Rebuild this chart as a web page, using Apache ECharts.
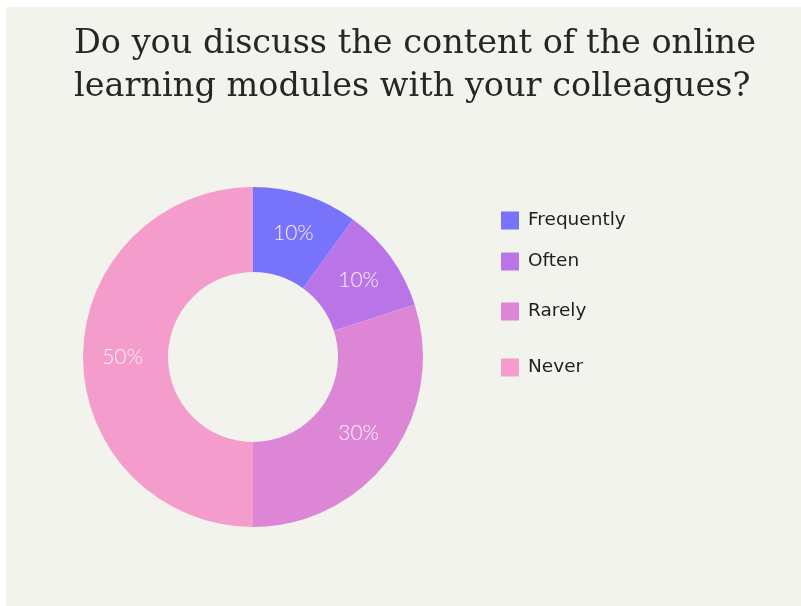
<!DOCTYPE html>
<html>
<head>
<meta charset="utf-8">
<script src="https://cdn.jsdelivr.net/npm/echarts@6/dist/echarts.min.js"></script>
<style>
html,body{margin:0;padding:0;background:#ffffff;}
#chart{width:801px;height:606px;}
</style>
</head>
<body>
<div id="chart"></div>
<script>
const titleLines = ['Do you discuss the content of the online', 'learning modules with your colleagues?'];
const categories = ['Frequently', 'Often', 'Rarely', 'Never'];
const values = [10, 10, 30, 50];
const colors = ['#7773fb', '#b974e7', '#de86d6', '#f49ccb'];
const legendTops = [211, 252, 302, 358];

const chart = echarts.init(document.getElementById('chart'));

const legends = categories.map((c, i) => ({
  data: [c],
  orient: 'vertical',
  left: 501,
  top: legendTops[i],
  padding: 0,
  itemWidth: 18,
  itemHeight: 18,
  itemGap: 0,
  icon: 'rect',
  selectedMode: false,
  textStyle: { fontFamily: 'DejaVu Sans', fontSize: 18.5, color: '#1e1e1e', padding: [0, 0, 0, 4] }
}));

chart.setOption({
  backgroundColor: '#ffffff',
  animation: false,
  graphic: [{
    type: 'rect',
    z: -10,
    silent: true,
    shape: { x: 6, y: 7, width: 795, height: 599 },
    style: { fill: '#f3f3ee' }
  }],
  title: {
    text: titleLines.join('\n'),
    left: 74,
    top: 23,
    padding: 0,
    textStyle: {
      fontFamily: 'DejaVu Serif',
      fontSize: 33.5,
      lineHeight: 43,
      fontWeight: 'normal',
      color: '#262626'
    }
  },
  legend: legends,
  series: [{
    type: 'pie',
    center: [253, 357],
    radius: [85, 170],
    startAngle: 90,
    clockwise: true,
    avoidLabelOverlap: false,
    color: colors,
    label: {
      show: true,
      position: 'inside',
      formatter: '{c}%',
      fontFamily: 'Lato',
      fontWeight: 300,
      fontSize: 21,
      color: '#fdf2fb'
    },
    labelLine: { show: false },
    emphasis: { disabled: true },
    data: categories.map((c, i) => ({ name: c, value: values[i] }))
  }]
});
</script>
</body>
</html>
